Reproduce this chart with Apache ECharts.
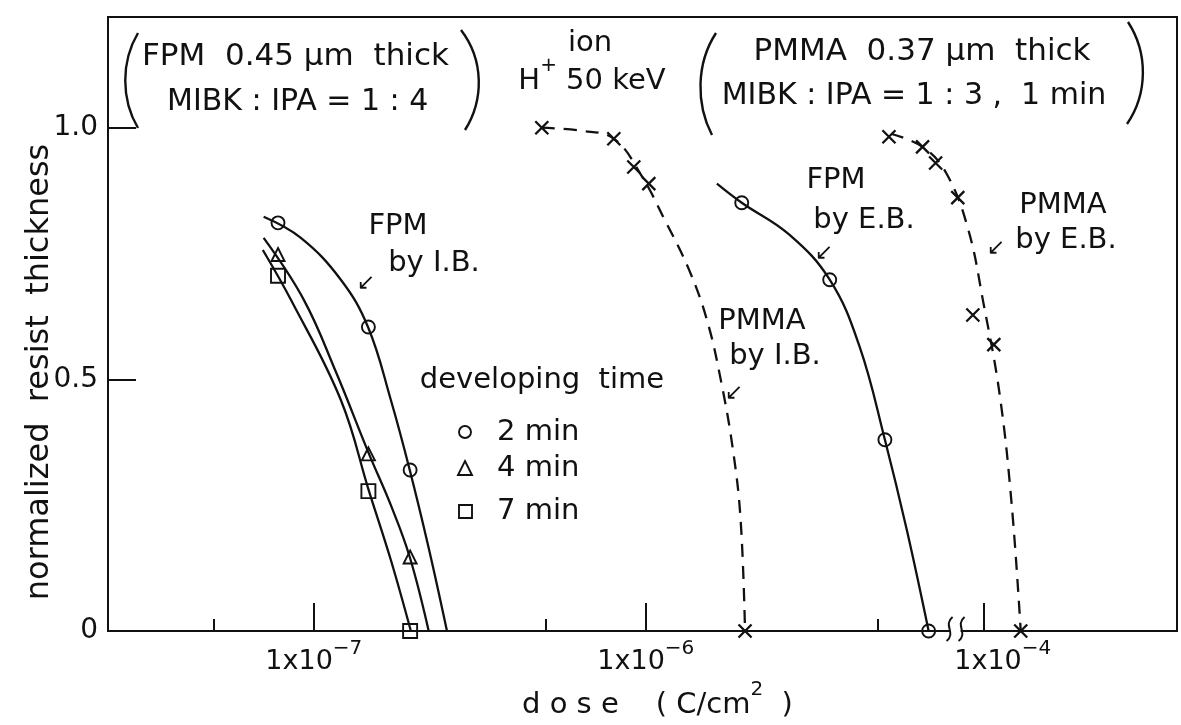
<!DOCTYPE html>
<html>
<head>
<meta charset="utf-8">
<title>resist thickness vs dose</title>
<script src="https://cdn.jsdelivr.net/npm/echarts@6.0.0/dist/echarts.min.js"></script>
<style>
  html, body { margin: 0; padding: 0; background: #fff; }
  #main { width: 1181px; height: 725px; }
</style>
</head>
<body>
<div id="main"></div>
<script>
// doses in C/cm2, thickness normalized to 1
// FPM by ion beam: measured points (same doses for the three developing times)
var fpmIbDose = [7.8e-8, 1.46e-7, 1.95e-7];
var fpmIb2min = [0.811, 0.604, 0.320];
var fpmIb4min = [0.748, 0.352, 0.147];
var fpmIb7min = [0.706, 0.278, 0.0];

// drawn curves through them
var curve2Dose = [7.06e-8, 9.14e-8, 1.206e-7, 1.456e-7, 1.706e-7, 1.945e-7, 2.218e-7, 2.518e-7];
var curve2Thick = [0.823, 0.781, 0.698, 0.604, 0.459, 0.320, 0.165, 0];
var curve4Dose = [7.06e-8, 9.33e-8, 1.165e-7, 1.466e-7, 1.706e-7, 1.945e-7, 2.218e-7];
var curve4Thick = [0.781, 0.658, 0.515, 0.352, 0.250, 0.147, 0];
var curve7Dose = [7.02e-8, 8.53e-8, 1.206e-7, 1.466e-7, 1.706e-7, 1.96e-7];
var curve7Thick = [0.757, 0.658, 0.459, 0.278, 0.141, 0];

// PMMA by ion beam
var pmmaIbDose = [4.86e-7, 8.01e-7, 9.2e-7, 1.021e-6, 1.99e-6];
var pmmaIbThick = [1.0, 0.978, 0.922, 0.889, 0];
var pmmaIbCurveDose = [4.86e-7, 6.37e-7, 8.01e-7, 9.66e-7, 1.14e-6, 1.349e-6, 1.528e-6,
                       1.682e-6, 1.83e-6, 1.93e-6, 1.99e-6];
var pmmaIbCurveThick = [1.0, 0.994, 0.978, 0.907, 0.817, 0.718, 0.618,
                        0.499, 0.360, 0.221, 0];

// FPM by electron beam
var fpmEbDose = [1.945e-6, 3.58e-6, 5.25e-6, 7.11e-6];
var fpmEbThick = [0.851, 0.698, 0.380, 0];
var fpmEbCurveDose = [1.637e-6, 1.945e-6, 2.7e-6, 3.58e-6, 4.4e-6, 5.25e-6, 6.11e-6, 7.11e-6];
var fpmEbCurveThick = [0.889, 0.851, 0.788, 0.698, 0.566, 0.380, 0.201, 0];

// PMMA by electron beam (right of the axis break)
var pmmaEbDose = [5.18e-5, 6.54e-5, 7.16e-5, 8.35e-5, 9.27e-5, 1.072e-4, 1.292e-4];
var pmmaEbThick = [0.982, 0.962, 0.930, 0.861, 0.628, 0.569, 0];
var pmmaEbCurveDose = [5.25e-5, 6.54e-5, 7.69e-5, 8.95e-5, 1.0e-4, 1.117e-4, 1.214e-4, 1.292e-4];
var pmmaEbCurveThick = [0.988, 0.962, 0.911, 0.801, 0.648, 0.469, 0.250, 0];

// tick labels
var majorTickDose = [1e-7, 1e-6, 1e-4];
var minorTickDose = [5e-8, 5e-7, 5e-6];
var yTicks = [0, 0.5, 1.0];

// the axis is broken between 1e-5 and 1e-4: doses above BREAK_DOSE are shifted left
var BREAK_DOSE = 2e-5;
var BREAK_SHIFT = 0.982;
var BREAK_AT = -5.07;

function toAxis(d) {
    var lg = Math.log10(d);
    return d > BREAK_DOSE ? lg - BREAK_SHIFT : lg;
}
function pts(doses, vals) {
    return doses.map(function (d, i) { return [toAxis(d), vals[i]]; });
}
function expOf(v) {
    for (var i = 0; i < majorTickDose.length; i++) {
        if (Math.abs(toAxis(majorTickDose[i]) - v) < 1e-3) return Math.round(Math.log10(majorTickDose[i]));
    }
    return null;
}

var FONT = 'DejaVu Sans';
var INK = '#111';
var majorTicks = majorTickDose.map(toAxis);
var minorTicks = minorTickDose.map(toAxis);

var myChart = echarts.init(document.getElementById('main'));

var solid = { color: INK, width: 2.3 };
var dashed = { color: INK, width: 2.3, type: [13, 9] };
var openMark = { color: 'rgba(255,255,255,0)', borderColor: INK, borderWidth: 1.9, opacity: 1 };
var crossMark = { color: 'none', borderColor: INK, borderWidth: 2.3, opacity: 1 };
var CROSS = 'path://M0 0L10 10M10 0L0 10';

function curve(data, style) {
    return { type: 'line', data: data, symbol: 'none', smooth: 0.4,
             lineStyle: style, silent: true, z: 2 };
}
function marks(data, symbol, size, style) {
    return { type: 'scatter', data: data, symbol: symbol, symbolSize: size, itemStyle: style, z: 3 };
}

var txt = function (x, y, text, align, extra) {
    var s = { text: text, x: x, y: y, fill: INK, fontFamily: FONT, fontSize: 29,
              align: align || 'center', verticalAlign: 'middle' };
    for (var k in extra || {}) s[k] = extra[k];
    return { type: 'text', style: s, z: 10 };
};
var bracket = function (x1, y1, x2, y2, cx) {
    return { type: 'bezierCurve', shape: { x1: x1, y1: y1, x2: x2, y2: y2,
             cpx1: cx, cpy1: y1 + (y2 - y1) * 0.3, cpx2: cx, cpy2: y1 + (y2 - y1) * 0.7 },
             style: { stroke: INK, lineWidth: 2.4, fill: 'none' }, z: 10 };
};
var supRich = {
    s: { fontFamily: FONT, fontSize: 20, lineHeight: 20, verticalAlign: 'top', fill: INK },
    n: { fontFamily: FONT, fontSize: 29, lineHeight: 40, verticalAlign: 'bottom', fill: INK }
};

var option = {
    animation: false,
    backgroundColor: '#fff',
    grid: { left: 108, right: 4, top: 17, bottom: 94, show: true, borderColor: INK, borderWidth: 2 },
    xAxis: [{
        type: 'value', min: -7.62, max: -4.40, position: 'bottom',
        axisLine: { show: true, lineStyle: { color: INK, width: 2 } },
        axisTick: { show: true, inside: true, length: 28, customValues: majorTicks, lineStyle: { color: INK, width: 2 } },
        splitLine: { show: false },
        axisLabel: {
            customValues: majorTicks, margin: 8, color: INK,
            formatter: function (v) {
                var e = expOf(v);
                return (e === -4 ? '{pad|}' : '') + '{b|1x10}{s|\u2212' + (-e) + '}';
            },
            rich: {
                b: { fontFamily: FONT, fontSize: 27, lineHeight: 36, verticalAlign: 'bottom', color: INK },
                s: { fontFamily: FONT, fontSize: 20, lineHeight: 20, verticalAlign: 'top', color: INK },
                pad: { width: 38 }
            }
        }
    }, {
        type: 'value', min: -7.62, max: -4.40, position: 'bottom',
        axisLine: { show: false },
        axisTick: { show: true, inside: true, length: 12, customValues: minorTicks, lineStyle: { color: INK, width: 2 } },
        axisLabel: { show: false },
        splitLine: { show: false }
    }],
    yAxis: {
        type: 'value', min: 0, max: 1.22,
        axisLine: { show: true, lineStyle: { color: INK, width: 2 } },
        axisTick: { show: true, inside: true, length: 28, customValues: yTicks, lineStyle: { color: INK, width: 2 } },
        splitLine: { show: false },
        axisLabel: {
            customValues: yTicks, margin: 10, color: INK, fontFamily: FONT, fontSize: 28,
            formatter: function (v) { return v === 0 ? '0' : v.toFixed(1); }
        }
    },
    series: [
        curve(pts(curve2Dose, curve2Thick), solid),
        curve(pts(curve4Dose, curve4Thick), solid),
        curve(pts(curve7Dose, curve7Thick), solid),
        marks(pts(fpmIbDose, fpmIb2min), 'circle', 13, openMark),
        marks(pts(fpmIbDose, fpmIb4min), 'triangle', 13, openMark),
        marks(pts(fpmIbDose, fpmIb7min), 'rect', 14, openMark),

        curve(pts(pmmaIbCurveDose, pmmaIbCurveThick), dashed),
        marks(pts(pmmaIbDose, pmmaIbThick), CROSS, 13, crossMark),

        curve(pts(fpmEbCurveDose, fpmEbCurveThick), solid),
        marks(pts(fpmEbDose, fpmEbThick), 'circle', 13, openMark),

        curve(pts(pmmaEbCurveDose, pmmaEbCurveThick), dashed),
        marks(pts(pmmaEbDose, pmmaEbThick), CROSS, 13, crossMark)
    ],
    graphic: [
        // y title
        { type: 'text', rotation: Math.PI / 2, x: 40, y: 372,
          style: { text: 'normalized  resist  thickness', fill: INK, fontFamily: FONT, fontSize: 32,
                   align: 'center', verticalAlign: 'middle' }, z: 10 },
        // top left note
        bracket(138, 33, 138, 128, 121),
        txt(142, 57, 'FPM  0.45 µm  thick', 'left', { fontSize: 31 }),
        txt(167, 102, 'MIBK : IPA = 1 : 4', 'left', { fontSize: 30 }),
        bracket(461, 30, 465, 130, 484),
        // source
        txt(590, 43, 'ion'),
        txt(592, 76, '{n|H}{s|+}{n| 50 keV}', 'center', { rich: supRich }),
        // top right note
        bracket(716, 33, 712, 135, 696),
        txt(922, 52, 'PMMA  0.37 µm  thick', 'center', { fontSize: 31 }),
        txt(914, 96, 'MIBK : IPA = 1 : 3 ,  1 min', 'center', { fontSize: 30 }),
        bracket(1128, 22, 1127, 124, 1148),
        // curve labels
        txt(398, 226, 'FPM'),
        txt(434, 263, 'by I.B.'),
        txt(366, 283, '↙', 'center', { fontSize: 22 }),
        txt(762, 321, 'PMMA'),
        txt(775, 356, 'by I.B.'),
        txt(734, 393, '↙', 'center', { fontSize: 22 }),
        txt(836, 180, 'FPM'),
        txt(864, 220, 'by E.B.'),
        txt(824, 253, '↙', 'center', { fontSize: 22 }),
        txt(1063, 205, 'PMMA'),
        txt(1066, 240, 'by E.B.'),
        txt(996, 248, '↙', 'center', { fontSize: 22 }),
        // legend
        txt(542, 380, 'developing  time'),
        { type: 'circle', shape: { cx: 465, cy: 432, r: 6 }, style: { stroke: INK, lineWidth: 1.9, fill: 'none' }, z: 10 },
        { type: 'polygon', shape: { points: [[465, 461], [472, 475], [458, 475]] }, style: { stroke: INK, lineWidth: 1.9, fill: 'none' }, z: 10 },
        { type: 'rect', shape: { x: 459, y: 505, width: 13, height: 13 }, style: { stroke: INK, lineWidth: 1.9, fill: 'none' }, z: 10 },
        txt(497, 432, '2 min', 'left'),
        txt(497, 468, '4 min', 'left'),
        txt(497, 511, '7 min', 'left'),
        // x title
        txt(522, 700, '{n|d o s e    ( C/cm}{s|2}{n|  )}', 'left', { rich: supRich })
    ]
};

myChart.setOption(option);

// axis break mark
var bx = myChart.convertToPixel({ xAxisIndex: 0 }, BREAK_AT);
var by = myChart.convertToPixel({ yAxisIndex: 0 }, 0);
var wave = function (x) {
    return { type: 'bezierCurve', shape: { x1: x + 4, y1: by - 14, x2: x - 2, y2: by + 10,
             cpx1: x - 6, cpy1: by - 6, cpx2: x + 8, cpy2: by + 2 },
             style: { stroke: INK, lineWidth: 2, fill: 'none' }, z: 12 };
};
myChart.setOption({
    graphic: option.graphic.concat([
        { type: 'rect', shape: { x: bx - 5, y: by - 3, width: 11, height: 6 }, style: { fill: '#fff' }, z: 11 },
        wave(bx - 6), wave(bx + 6)
    ])
});
</script>
</body>
</html>
